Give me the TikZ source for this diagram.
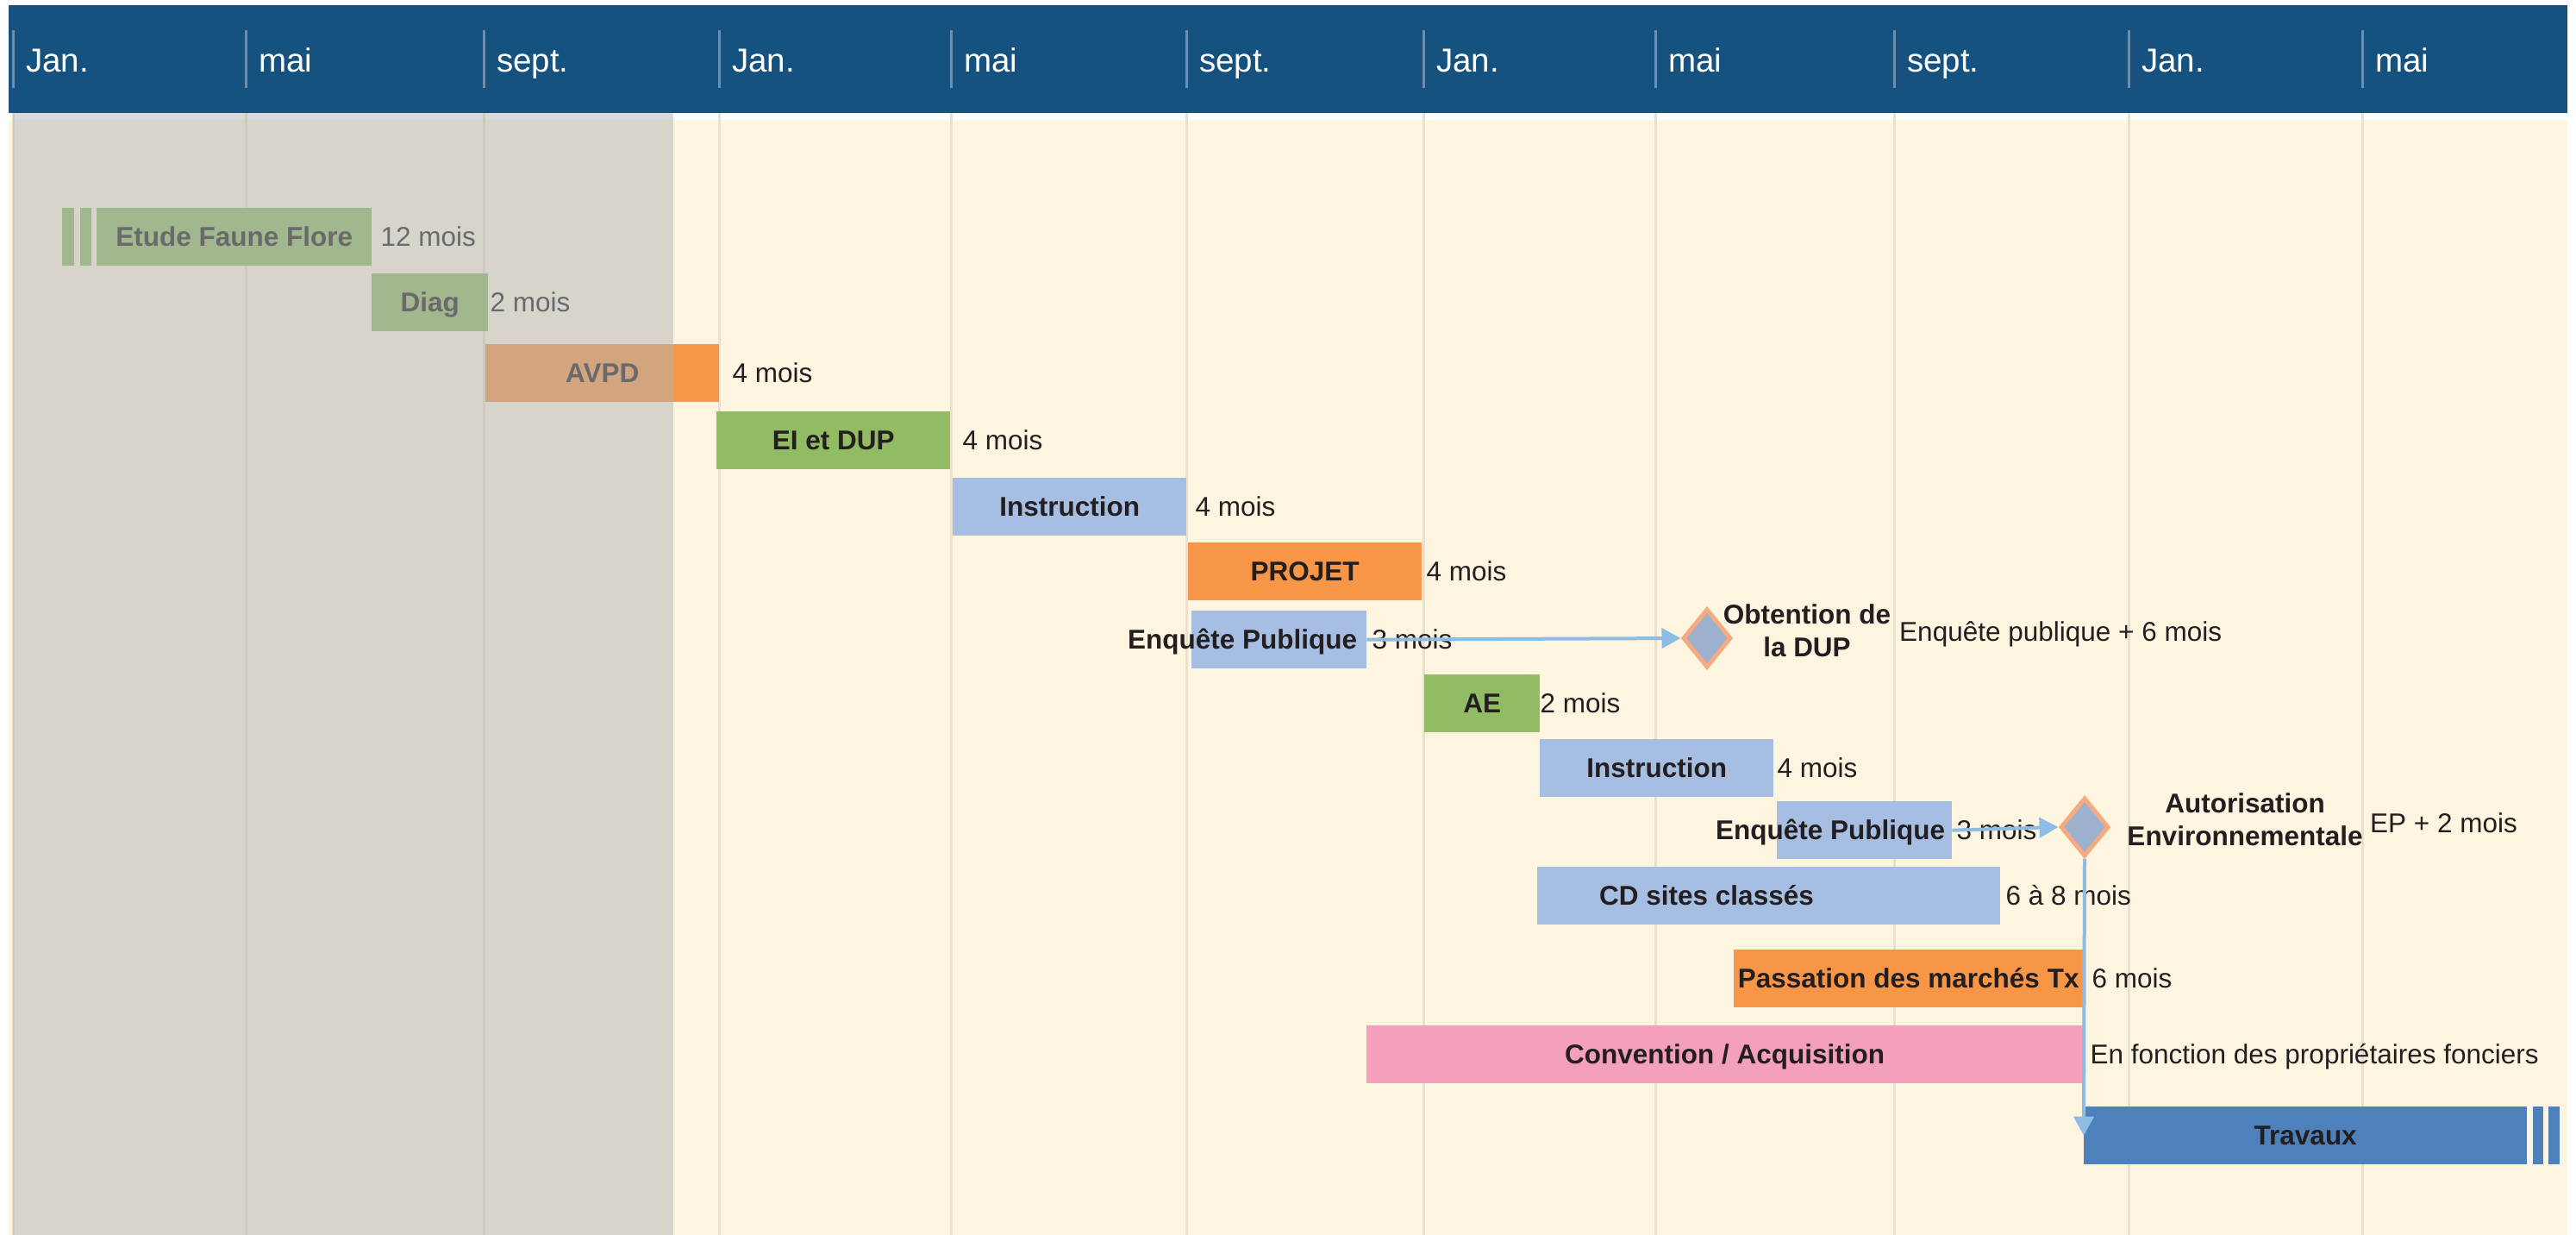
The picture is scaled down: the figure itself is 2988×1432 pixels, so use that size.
\documentclass[tikz,border=0pt]{standalone}
\usepackage{fontspec}
\setmainfont{Liberation Sans}
\usetikzlibrary{shapes.geometric,arrows.meta}
\definecolor{entete}{RGB}{22,82,128}
\definecolor{trait}{RGB}{108,142,177}
\definecolor{fond}{RGB}{254,245,225}
\definecolor{grille}{RGB}{233,225,205}
\definecolor{voile}{RGB}{177,180,183}
\definecolor{vert}{RGB}{146,188,100}
\definecolor{bleu}{RGB}{166,190,226}
\definecolor{orange}{RGB}{247,150,70}
\definecolor{rose}{RGB}{244,159,188}
\definecolor{bleufonce}{RGB}{78,128,188}
\definecolor{losfond}{RGB}{155,177,205}
\definecolor{losbord}{RGB}{246,170,128}
\definecolor{fleche}{RGB}{141,188,229}
\definecolor{texte}{RGB}{35,31,32}
\tikzset{
  barre/.style={anchor=north west, minimum height=67pt, inner sep=0pt, text height=22pt, text depth=1pt, font=\bfseries\fontsize{31.5}{38}\selectfont, text=texte},
  titre/.style={inner sep=0pt, text height=22pt, text depth=1pt, font=\bfseries\fontsize{31.5}{38}\selectfont, text=texte},
  duree/.style={anchor=west, inner sep=0pt, text height=22pt, text depth=1pt, font=\fontsize{31.5}{38}\selectfont, text=texte},
  jalon/.style={diamond, draw=losbord, fill=losfond, line width=5pt, minimum width=56pt, minimum height=68pt, inner sep=0pt},
  jalontxt/.style={inner sep=0pt, align=center, font=\bfseries\fontsize{31.5}{38}\selectfont, text=texte},
  lien/.style={draw=fleche, line width=4pt, -{Triangle[length=22pt,width=23pt]}},
  moislbl/.style={anchor=base west, inner sep=0pt, text=white, font=\fontsize{38.5}{44}\selectfont},
}
\begin{document}
\begin{tikzpicture}[x=1pt,y=-1pt]
\useasboundingbox (0,0) rectangle (2988,1432);
\fill[entete] (10,6) rectangle (2978,131);
\fill[fond] (10,139) rectangle (2978,1432);
\foreach \x in {15,285,561,834,1103,1376,1651,1920,2197,2469,2740} \draw[grille, line width=3pt] (\x,131) -- (\x,1432);
\foreach \x/\m in {15/Jan.,285/mai,561/sept.,834/Jan.,1103/mai,1376/sept.,1651/Jan.,1920/mai,2197/sept.,2469/Jan.,2740/mai} {
  \draw[trait, line width=3pt] (\x,35) -- (\x,102);
  \node[moislbl] (mois\x) at (\x+15,83) {\m};
}
\fill[vert] (72,241) rectangle (86,308);
\fill[vert] (93,241) rectangle (106,308);
\node[barre, fill=vert, minimum width=319pt] (etude) at (112,241) {Etude Faune Flore};
\node[duree] (etuded) at ([xshift=10pt]etude.east) {12 mois};
\node[barre, fill=vert, minimum width=135pt] (diag) at (431,317) {Diag};
\node[duree] (diagd) at ([xshift=2pt]diag.east) {2 mois};
\node[barre, fill=orange, minimum width=271pt] (avpd) at (563,399) {AVPD};
\node[duree] (avpdd) at ([xshift=15pt]avpd.east) {4 mois};
\node[barre, fill=vert, minimum width=271pt] (eidup) at (831,477) {EI et DUP};
\node[duree] (eidupd) at ([xshift=14pt]eidup.east) {4 mois};
\node[barre, fill=bleu, minimum width=271pt] (instr) at (1105,554) {Instruction};
\node[duree] (instrd) at ([xshift=10pt]instr.east) {4 mois};
\node[barre, fill=orange, minimum width=271pt] (projet) at (1378,629) {PROJET};
\node[duree] (projetd) at ([xshift=5pt]projet.east) {4 mois};
\node[barre, fill=bleu, minimum width=203pt] (ep) at (1382,708) {};
\node[titre, anchor=east] (ept) at ([xshift=-11pt]ep.east) {Enquête Publique};
\node[duree] (epd) at ([xshift=6pt]ep.east) {3 mois};
\node[barre, fill=vert, minimum width=134pt] (ae) at (1652,782) {AE};
\node[duree] (aed) at ([xshift=0pt]ae.east) {2 mois};
\node[barre, fill=bleu, minimum width=271pt] (instrae) at (1786,857) {Instruction};
\node[duree] (instraed) at ([xshift=4pt]instrae.east) {4 mois};
\node[barre, fill=bleu, minimum width=203pt] (epae) at (2061,929) {};
\node[titre, anchor=east] (epaet) at ([xshift=-8pt]epae.east) {Enquête Publique};
\node[duree] (epaed) at ([xshift=5pt]epae.east) {3 mois};
\node[barre, fill=bleu, minimum width=537pt] (cd) at (1783,1005) {};
\node[titre, anchor=west] (cdt) at ([xshift=72pt]cd.west) {CD sites classés};
\node[duree] (cdd) at ([xshift=6pt]cd.east) {6 à 8 mois};
\node[barre, fill=orange, minimum width=405pt] (passation) at (2011,1101) {Passation des marchés Tx};
\node[duree] (passationd) at ([xshift=10pt]passation.east) {6 mois};
\node[barre, fill=rose, minimum width=831pt] (convention) at (1585,1189) {Convention / Acquisition};
\node[duree] (conventiond) at ([xshift=8pt]convention.east) {En fonction des propriétaires fonciers};
\node[barre, fill=bleufonce, minimum width=514pt] (travaux) at (2417,1283) {Travaux};
\fill[bleufonce] (2938,1283) rectangle (2950,1350);
\fill[bleufonce] (2956,1283) rectangle (2969,1350);
\node[jalon] (dup) at (1980,740) {};
\node[jalontxt] (dupt) at (2096,731) {Obtention de\\la DUP};
\node[duree, anchor=base west] (dupd) at (2203,743) {Enquête publique + 6 mois};
\node[jalon] (aut) at (2418,959) {};
\node[jalontxt] (autt) at (2604,950) {Autorisation\\Environnementale};
\node[duree, anchor=base west] (autd) at (2749,965) {EP + 2 mois};
\draw[lien] (ep.east) -- (dup.west);
\draw[lien] (epae.east) -- (aut.west);
\draw[lien] (aut.south) -- (travaux.west);
\fill[voile, opacity=0.5] (15,131) rectangle (781,1432);
\end{tikzpicture}
\end{document}
